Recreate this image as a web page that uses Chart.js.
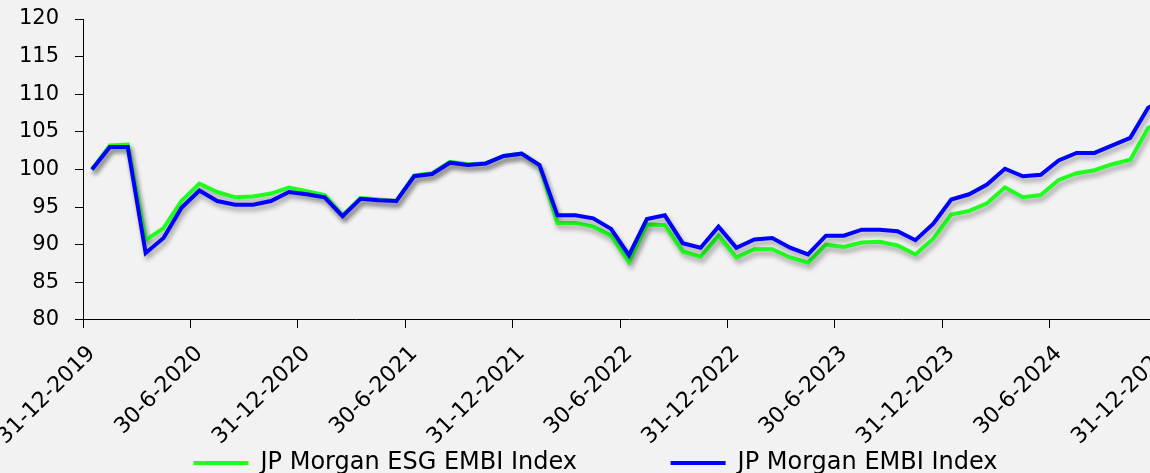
<!DOCTYPE html>
<html>
<head>
<meta charset="utf-8">
<script src="https://cdn.jsdelivr.net/npm/chart.js@4/dist/chart.umd.min.js"></script>
<style>
  html, body { margin: 0; padding: 0; background: #f2f2f2; overflow: hidden; }
  canvas { display: block; }
</style>
</head>
<body>
<canvas id="embiChart" width="1191" height="485"></canvas>
<script>
// month-end dates
const categories = [
    '31-12-2019',
    '31-1-2020', '29-2-2020', '31-3-2020', '30-4-2020', '31-5-2020', '30-6-2020',
    '31-7-2020', '31-8-2020', '30-9-2020', '31-10-2020', '30-11-2020', '31-12-2020',
    '31-1-2021', '28-2-2021', '31-3-2021', '30-4-2021', '31-5-2021', '30-6-2021',
    '31-7-2021', '31-8-2021', '30-9-2021', '31-10-2021', '30-11-2021', '31-12-2021',
    '31-1-2022', '28-2-2022', '31-3-2022', '30-4-2022', '31-5-2022', '30-6-2022',
    '31-7-2022', '31-8-2022', '30-9-2022', '31-10-2022', '30-11-2022', '31-12-2022',
    '31-1-2023', '28-2-2023', '31-3-2023', '30-4-2023', '31-5-2023', '30-6-2023',
    '31-7-2023', '31-8-2023', '30-9-2023', '31-10-2023', '30-11-2023', '31-12-2023',
    '31-1-2024', '29-2-2024', '31-3-2024', '30-4-2024', '31-5-2024', '30-6-2024',
    '31-7-2024', '31-8-2024', '30-9-2024', '31-10-2024', '30-11-2024', '31-12-2024'
];

const tickLabels = [
    '31-12-2019', '30-6-2020', '31-12-2020', '30-6-2021', '31-12-2021', '30-6-2022',
    '31-12-2022', '30-6-2023', '31-12-2023', '30-6-2024', '31-12-2024'
];

const esgEmbi = [
    100.0,
    103.2, 103.3, 90.6, 92.2, 95.8, 98.1, 97.0, 96.3, 96.4, 96.8, 97.6, 97.1,
    96.6, 93.9, 96.2, 96.0, 95.8, 99.2, 99.5, 101.0, 100.7, 100.8, 101.8, 102.1,
    100.5, 92.9, 92.9, 92.4, 91.2, 87.7, 92.7, 92.6, 89.1, 88.4, 91.2, 88.3,
    89.4, 89.4, 88.3, 87.6, 90.0, 89.7, 90.3, 90.4, 89.9, 88.7, 90.8, 94.0,
    94.5, 95.5, 97.6, 96.3, 96.6, 98.6, 99.5, 99.9, 100.7, 101.3, 105.5, 106.7
];

const embi = [
    100.0,
    103.0, 103.0, 88.9, 90.9, 94.9, 97.2, 95.8, 95.3, 95.3, 95.8, 97.0, 96.7,
    96.3, 93.8, 96.1, 95.9, 95.8, 99.1, 99.4, 100.9, 100.6, 100.8, 101.8, 102.1,
    100.6, 93.9, 93.9, 93.5, 92.1, 88.6, 93.4, 93.9, 90.2, 89.6, 92.4, 89.6,
    90.7, 90.9, 89.6, 88.7, 91.2, 91.2, 92.0, 92.0, 91.8, 90.6, 92.8, 96.0,
    96.7, 98.0, 100.1, 99.1, 99.3, 101.2, 102.2, 102.2, 103.2, 104.2, 108.2, 109.4
];

const FONT = 'DejaVu Sans';

// soft drop shadow under each line
const lineShadow = {
    id: 'lineShadow',
    beforeDatasetDraw(chart) {
        const ctx = chart.ctx;
        ctx.save();
        ctx.shadowColor = 'rgba(0, 0, 0, 0.35)';
        ctx.shadowBlur = 5;
        ctx.shadowOffsetX = 2;
        ctx.shadowOffsetY = 4;
    },
    afterDatasetDraw(chart) {
        chart.ctx.restore();
    }
};

const isMarked = i => tickLabels.includes(categories[i]);

new Chart(document.getElementById('embiChart'), {
    type: 'line',
    data: {
        labels: categories,
        datasets: [{
            label: 'JP Morgan ESG EMBI Index',
            data: esgEmbi,
            borderColor: '#1eff1e',
            backgroundColor: '#1eff1e',
            borderWidth: 4,
            pointRadius: 0,
            order: 1
        }, {
            label: 'JP Morgan EMBI Index',
            data: embi,
            borderColor: '#0000ff',
            backgroundColor: '#0000ff',
            borderWidth: 4,
            pointRadius: 0,
            order: 0
        }]
    },
    options: {
        responsive: false,
        animation: false,
        layout: { padding: 0 },
        scales: {
            x: {
                offset: true,
                grid: {
                    offset: true,
                    drawOnChartArea: false,
                    tickLength: 8,
                    color: c => isMarked(c.index) ? '#000' : 'rgba(0,0,0,0)'
                },
                border: { color: '#000', width: 1 },
                ticks: {
                    autoSkip: false,
                    maxRotation: 45,
                    minRotation: 45,
                    padding: 13,
                    color: '#000',
                    font: { family: FONT, size: 22 },
                    callback: (v, i) => isMarked(i) ? categories[i] : ''
                },
                afterFit: scale => {
                    // first label is allowed to run off the left edge, as in the original
                    scale.paddingLeft = 0;
                    scale.paddingRight = 16;
                    scale.height -= 14;
                }
            },
            y: {
                min: 80,
                max: 120,
                grid: { drawOnChartArea: false, tickLength: 8, color: '#000' },
                border: { color: '#000', width: 1 },
                ticks: {
                    stepSize: 5,
                    padding: 16,
                    color: '#000',
                    font: { family: FONT, size: 21 }
                },
                afterFit: scale => {
                    scale.width = 83;
                    scale.paddingTop = 19;
                }
            }
        },
        plugins: {
            tooltip: { enabled: false },
            legend: {
                position: 'bottom',
                labels: {
                    usePointStyle: true,
                    pointStyle: 'line',
                    pointStyleWidth: 55,
                    padding: 2,
                    color: '#000',
                    font: { family: FONT, size: 24 },
                    sort: (a, b) => a.datasetIndex - b.datasetIndex,
                    generateLabels: chart => {
                        const items = Chart.defaults.plugins.legend.labels.generateLabels(chart);
                        // wider gap between the two entries
                        items.forEach(it => { if (it.datasetIndex === 0) it.text += '\u00a0'.repeat(12); });
                        return items;
                    }
                }
            }
        }
    },
    plugins: [lineShadow]
});
</script>
</body>
</html>
